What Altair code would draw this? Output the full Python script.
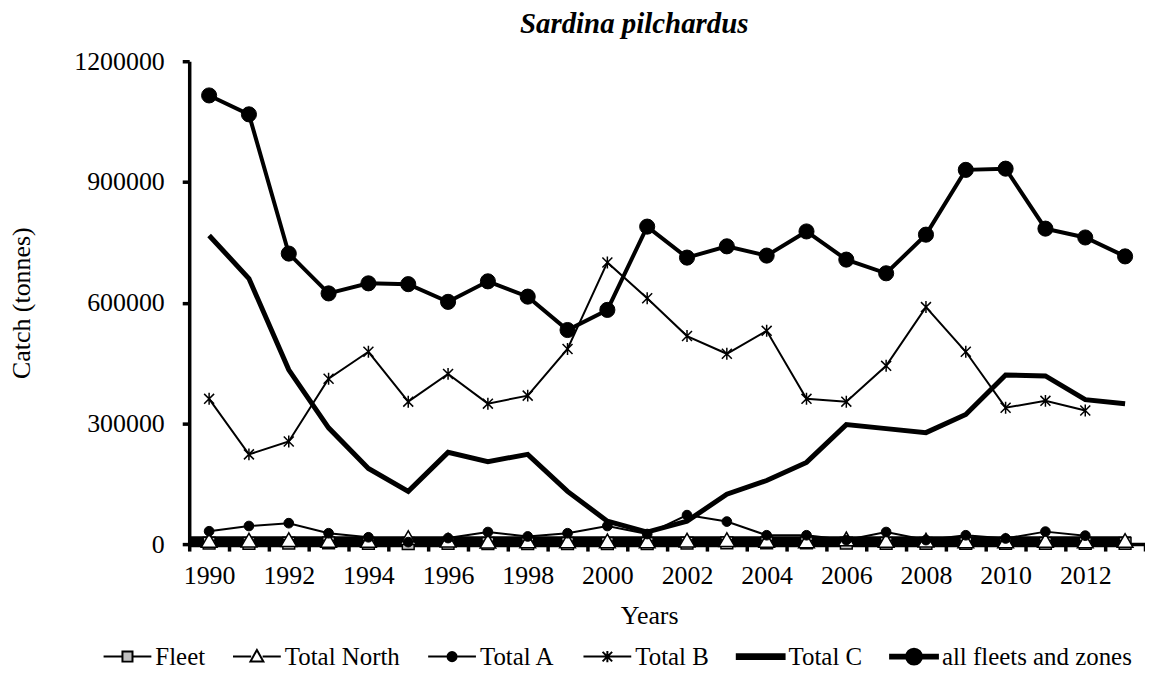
import altair as alt
import pandas as pd

FONT = "Liberation Serif"

chart_title = ["Sardina pilchardus"]
years = list(range(1990, 2014))
series_names = ["Fleet", "Total North", "Total A", "Total B", "Total C", "all fleets and zones"]

fleet = [2500, 2000, 2500, 3000, 2000, 1500, 2000, 1500, 1500, 1500, 1500, 1500,
         2500, 3000, 3000, 3000, 2500, 2000, 2000, 2000, 2000, 2000, 2000, 2000]
total_north = [9000, 10000, 11000, 9000, 9000, 16000, 10000, 7000, 8000, 8000, 8000, 8000,
               10000, 11000, 9000, 8000, 13000, 9000, 10000, 8000, 8000, 9000, 8000, 9000]
total_a = [32000, 45000, 52000, 27000, 17000, 5000, 15000, 30000, 19000, 27000, 45000, 25000,
           72000, 56000, 22000, 22000, 10000, 30000, 10000, 22000, 14000, 31000, 21000, None]
total_b = [361000, 223000, 255000, 411000, 478000, 354000, 423000, 349000, 369000, 485000, 700000, 611000,
           517000, 473000, 530000, 361000, 354000, 443000, 589000, 478000, 339000, 356000, 332000, None]
total_c = [767000, 660000, 433000, 289000, 188000, 131000, 228000, 205000, 223000, 131000, 57000, 30000,
           57000, 124000, 158000, 203000, 297000, 287000, 277000, 322000, 420000, 418000, 359000, 349000]
all_fleets = [1115000, 1068000, 722000, 623000, 648000, 646000, 602000, 653000, 615000, 532000, 582000, 789000,
              712000, 740000, 717000, 777000, 707000, 673000, 769000, 930000, 933000, 784000, 762000, 715000]

# other fleets stacked on the zero line (drawn as a heavy band)
band_start = [1989.5]
band_end = [2013.15]
band_level = [6000]

y_ticks = [0, 300000, 600000, 900000, 1200000]
x_tick_values = [y - 0.5 for y in years] + [years[-1] + 0.5] + years

values = {
    "Fleet": fleet,
    "Total North": total_north,
    "Total A": total_a,
    "Total B": total_b,
    "Total C": total_c,
    "all fleets and zones": all_fleets,
}
rows = []
for name in series_names:
    for yr, v in zip(years, values[name]):
        if v is not None:
            rows.append({"series": name, "year": yr, "catch": v})
df = pd.DataFrame(rows)
band_df = pd.DataFrame({"x0": band_start, "x1": band_end, "level": band_level})

x_axis = alt.Axis(
    values=x_tick_values,
    labelExpr="datum.value % 2 == 0 ? datum.value : ''",
    tickOpacity={"condition": {"test": "datum.value % 1 == 0", "value": 0}, "value": 1},
    grid=False, domainColor="black", domainWidth=3.5, tickColor="black", tickWidth=3.5, tickSize=7,
    labelFont=FONT, labelFontSize=26, labelColor="black", labelPadding=12,
    labelOverlap=False, labelFlush=False, labelBound=False,
    title="Years", titleFont=FONT, titleFontSize=26, titleFontWeight="normal", titleColor="black",
    titleX=462, titleY=72, titleBaseline="middle",
)
y_axis = alt.Axis(
    values=y_ticks, format="d",
    grid=False, domainColor="black", domainWidth=3.5, tickColor="black", tickWidth=3.5, tickSize=7,
    labelFont=FONT, labelFontSize=26, labelColor="black", labelPadding=18,
    title="Catch (tonnes)", titleFont=FONT, titleFontSize=26, titleFontWeight="normal", titleColor="black",
    titleX=-168, titleY=242.5, titleBaseline="middle", titleAngle=-90,
)
x_scale = alt.Scale(domain=[1989.5, 2013.5], nice=False, zero=False)
y_scale = alt.Scale(domain=[0, 1200000], nice=False)


def xq(field):
    return alt.X(f"{field}:Q", scale=x_scale, axis=x_axis)


def yq(field):
    return alt.Y(f"{field}:Q", scale=y_scale, axis=y_axis)


base = alt.Chart(df)


def sel(name):
    return base.transform_filter(alt.datum.series == name)


band = alt.Chart(band_df).mark_rule(color="black", strokeWidth=11, strokeCap="butt").encode(
    x=xq("x0"), x2="x1", y=yq("level")
)

asterisk = "M-1,-1L1,1M-1,1L1,-1M0,-1.2L0,1.2"

layers = [band]
# Fleet
layers.append(sel("Fleet").mark_line(color="black", strokeWidth=1.5).encode(x=xq("year"), y=yq("catch")))
layers.append(sel("Fleet").mark_point(shape="square", size=140, fill="#BFBFBF", stroke="black",
                                      strokeWidth=1.5, opacity=1, filled=False)
              .encode(x=xq("year"), y=yq("catch")))
# Total North
layers.append(sel("Total North").mark_line(color="black", strokeWidth=1.5).encode(x=xq("year"), y=yq("catch")))
layers.append(sel("Total North").mark_point(shape="triangle-up", size=250, fill="white", stroke="black",
                                            strokeWidth=1.5, opacity=1, filled=False)
              .encode(x=xq("year"), y=yq("catch")))
# Total A
layers.append(sel("Total A").mark_line(color="black", strokeWidth=2).encode(x=xq("year"), y=yq("catch")))
layers.append(sel("Total A").mark_point(shape="circle", size=95, fill="black", stroke="black",
                                        strokeWidth=1, opacity=1, filled=False)
              .encode(x=xq("year"), y=yq("catch")))
# Total B
layers.append(sel("Total B").mark_line(color="black", strokeWidth=2).encode(x=xq("year"), y=yq("catch")))
layers.append(sel("Total B").mark_point(shape=asterisk, size=100, stroke="black", fill="transparent",
                                        strokeWidth=1.5, opacity=1, filled=False)
              .encode(x=xq("year"), y=yq("catch")))
# Total C
layers.append(sel("Total C").mark_line(color="black", strokeWidth=5).encode(x=xq("year"), y=yq("catch")))
# all fleets and zones
layers.append(sel("all fleets and zones").mark_line(color="black", strokeWidth=4).encode(x=xq("year"), y=yq("catch")))
layers.append(sel("all fleets and zones").mark_point(shape="circle", size=230, fill="black", stroke="black",
                                                     strokeWidth=1, opacity=1, filled=False)
              .encode(x=xq("year"), y=yq("catch")))

# chart title as a text mark above the plot
title_layer = alt.Chart(pd.DataFrame({"t": chart_title})).mark_text(
    font=FONT, fontSize=29, fontStyle="italic", fontWeight="bold", color="black",
    align="center", baseline="alphabetic"
).encode(text="t:N", x=alt.value(447), y=alt.value(-28))
layers.append(title_layer)

# legend symbols: line + marker combined into one path each
legend_paths = [
    "M-1,0H-0.21M0.21,0H1M-0.21,-0.21H0.21V0.21H-0.21Z",
    "M-1,0H-0.24M0.24,0H1M0,-0.28L0.27,0.2H-0.27Z",
    "M-1,0H1M-0.19,0A0.19,0.19 0 1,1 0.19,0A0.19,0.19 0 1,1 -0.19,0Z",
    "M-1,0H1M-0.2,-0.2L0.2,0.2M-0.2,0.2L0.2,-0.2M0,-0.24V0.24",
    "M-1,-0.1H1V0.1H-1Z",
    "M-1,-0.075H1V0.075H-1ZM-0.33,0A0.33,0.33 0 1,1 0.33,0A0.33,0.33 0 1,1 -0.33,0Z",
]
legend_fills = ["#BFBFBF", "white", "black", "black", "black", "black"]
legend_strokes = ["black"] * len(series_names)
legend_df = pd.DataFrame({"series": series_names})
leg = alt.Legend(
    title=None, orient="none", legendX=-87, legendY=573, direction="horizontal",
    symbolSize=2304, symbolStrokeColor="black", symbolStrokeWidth=2, symbolOpacity=1,
    labelFont=FONT, labelFontSize=25, labelColor="black", labelOffset=3, columnPadding=24,
    labelLimit=400,
)
legend_layer = alt.Chart(legend_df).transform_filter(alt.datum.series == "__none__").mark_point(
    opacity=1, strokeWidth=2, filled=False
).encode(
    shape=alt.Shape("series:N", scale=alt.Scale(domain=series_names, range=legend_paths), legend=leg),
    fill=alt.Fill("series:N", scale=alt.Scale(domain=series_names, range=legend_fills), legend=leg),
    stroke=alt.Stroke("series:N", scale=alt.Scale(domain=series_names, range=legend_strokes), legend=leg),
)
layers.append(legend_layer)

chart = alt.layer(*layers).properties(
    width=960, height=485,
    autosize=alt.AutoSizeParams(type="none"),
    padding={"left": 182, "top": 52, "right": 0, "bottom": 128},
    background="white",
).configure_view(stroke=None)

chart.save("out.html", embed_options={"renderer": "svg", "actions": False})
